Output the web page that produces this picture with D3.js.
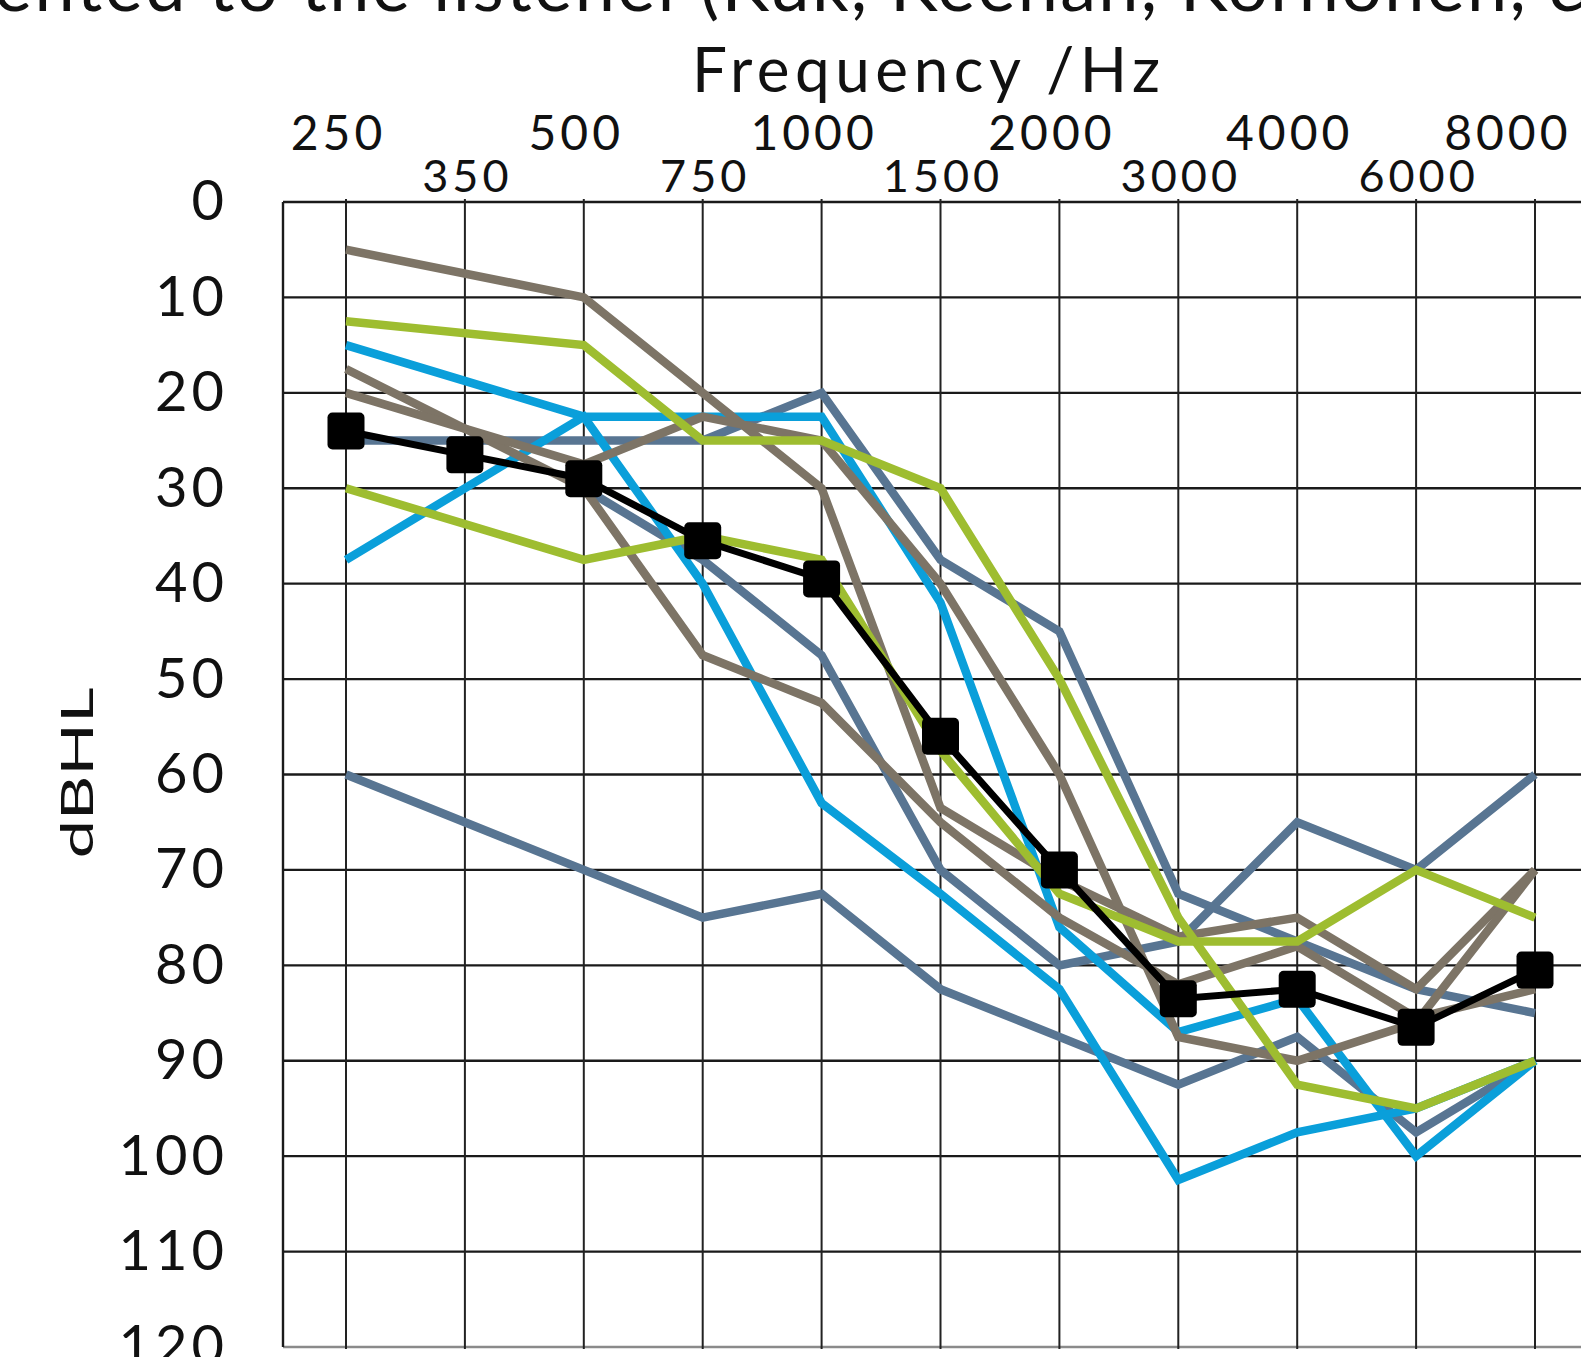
<!DOCTYPE html>
<html>
<head>
<meta charset="utf-8">
<script src="https://cdn.jsdelivr.net/npm/d3@7"></script>
<style>
  body { margin: 0; background: #fff; overflow: hidden; }
  text { font-family: Lato, "Open Sans", sans-serif; fill: #111; }
</style>
</head>
<body>
<svg id="draw"></svg>
<script>
// audiogram: frequency columns are evenly spaced, hearing level grows downwards

var freqs = [250, 350, 500, 750, 1000, 1500, 2000, 3000, 4000, 6000, 8000];
var upperFreqLabels = [250, 500, 1000, 2000, 4000, 8000];
var lowerFreqLabels = [350, 750, 1500, 3000, 6000];
var dbTicks = [0, 10, 20, 30, 40, 50, 60, 70, 80, 90, 100, 110, 120];

// individual listeners (dB HL), null = not measured
var brownA = [5, null, 10, null, 30, 63.5, 71, 77, 75, 82.5, 70];
var brownB = [17.5, null, 30, 47.5, 52.5, 65, 75, 82, 78, 85.5, 82.5];
var brownC = [20, null, 27.5, 22.5, 25, 40, 60, 87.5, 90, 86, 70];
var greenA = [12.5, null, 15, 25, 25, 30, 50, 75, 92.5, 95, 90];
var greenB = [30, null, 37.5, 35, 37.5, 57.5, 72.5, 77.5, 77.5, 70, 75];
var blueA = [15, null, 22.5, 22.5, 22.5, 42, 76, 87, 83.5, 100, 90];
var blueB = [37.5, null, 22.5, 40, 63, 72.5, 82.5, 102.5, 97.5, 95, 90];
var slateA = [25, null, 25, 25, 20, 37.5, 45, 72.5, 77.5, 82.5, 85];
var slateB = [null, null, 30, 37.5, 47.5, 70, 80, 77.5, 65, 70, 60];
var slateC = [60, null, 70, 75, 72.5, 82.5, 87.5, 92.5, 87.5, 97.5, 90];
// group mean
var meanHL = [24, 26.5, 29, 35.5, 39.5, 56, 70, 83.5, 82.5, 86.5, 80.5];

var colors = {
  slate: "#587592",
  blue: "#0a9fda",
  brown: "#7d7466",
  green: "#9ebd30"
};

// drawing order: slate at the back, mean on top
var listeners = [
  { values: slateA, color: colors.slate },
  { values: slateB, color: colors.slate },
  { values: slateC, color: colors.slate },
  { values: blueA, color: colors.blue },
  { values: blueB, color: colors.blue },
  { values: brownA, color: colors.brown },
  { values: brownB, color: colors.brown },
  { values: brownC, color: colors.brown },
  { values: greenA, color: colors.green },
  { values: greenB, color: colors.green }
];

var W = 1581, H = 1357;
var gridLeft = 283, gridRight = 1600;

var svg = d3.select("#draw")
  .attr("width", W)
  .attr("height", H);

var x = d3.scalePoint()
  .domain(freqs)
  .range([346, 1535]);

var y = d3.scaleLinear()
  .domain([0, 120])
  .range([202, 1347]);

// cut-off sentence from the page above the figure
var title = svg.append("text")
  .attr("y", 11)
  .attr("font-size", 72);
title.append("tspan")
  .attr("x", -6)
  .attr("textLength", 690)
  .attr("lengthAdjust", "spacing")
  .text("ented to the listener");
title.append("tspan")
  .attr("x", 700)
  .attr("textLength", 900)
  .attr("lengthAdjust", "spacing")
  .text("(Kuk, Keenan, Korhonen, &");

// grid
var grid = svg.append("g").attr("class", "grid");

grid.selectAll(".hline")
  .data(dbTicks)
  .enter().append("line")
  .attr("class", "hline")
  .attr("x1", gridLeft)
  .attr("x2", gridRight)
  .attr("y1", function(d) { return y(d); })
  .attr("y2", function(d) { return y(d); })
  .attr("stroke", function(d) { return d == 120 ? "#8a8a8a" : "#1a1a1a"; })
  .attr("stroke-width", 2.4);

grid.selectAll(".vline")
  .data(freqs)
  .enter().append("line")
  .attr("class", "vline")
  .attr("x1", function(d) { return x(d); })
  .attr("x2", function(d) { return x(d); })
  .attr("y1", y(0) - 3)
  .attr("y2", y(120) + 2)
  .attr("stroke", "#222")
  .attr("stroke-width", 2);

grid.append("line")
  .attr("x1", gridLeft)
  .attr("x2", gridLeft)
  .attr("y1", y(0))
  .attr("y2", y(120))
  .attr("stroke", "#1a1a1a")
  .attr("stroke-width", 2.4);

// axes: only the labels are kept
var yAxis = svg.append("g")
  .attr("transform", "translate(" + gridLeft + ",0)")
  .call(d3.axisLeft(y).tickValues(dbTicks).tickSize(0).tickPadding(55));

var upperAxis = svg.append("g")
  .attr("transform", "translate(-8," + y(0) + ")")
  .call(d3.axisTop(x).tickValues(upperFreqLabels).tickSize(0).tickPadding(52));

var lowerAxis = svg.append("g")
  .attr("transform", "translate(2," + y(0) + ")")
  .call(d3.axisTop(x).tickValues(lowerFreqLabels).tickSize(0).tickPadding(10));

[yAxis, upperAxis, lowerAxis].forEach(function(g) {
  g.select(".domain").remove();
  g.selectAll("text")
    .attr("fill", "#111")
    .style("font-family", "Lato, sans-serif");
});
yAxis.selectAll("text").attr("font-size", 56).attr("letter-spacing", 4);
upperAxis.selectAll("text").attr("font-size", 48).attr("letter-spacing", 4);
lowerAxis.selectAll("text").attr("font-size", 45).attr("letter-spacing", 4);

// keep the last frequency label inside the page
upperAxis.selectAll(".tick text").each(function(d) {
  var half = this.getComputedTextLength() / 2;
  var right = x(d) - 8 + half;
  if (right > W - 10) {
    d3.select(this).attr("x", W - 10 - right);
  }
});

// axis titles
svg.append("text")
  .attr("x", 692)
  .attr("y", 92)
  .attr("font-size", 62)
  .attr("textLength", 468)
  .attr("lengthAdjust", "spacing")
  .text("Frequency /Hz");

svg.append("text")
  .attr("transform", "translate(93,773) rotate(-90)")
  .attr("text-anchor", "middle")
  .attr("font-size", 44)
  .attr("textLength", 171)
  .attr("lengthAdjust", "spacingAndGlyphs")
  .text("dBHL");

// listener curves, skipping frequencies that were not measured
var line = d3.line()
  .x(function(d) { return x(d.f); })
  .y(function(d) { return y(d.v); });

function points(values) {
  return freqs.map(function(f, i) {
    return { f: f, v: values[i] };
  }).filter(function(d) { return d.v != null; });
}

svg.append("g").selectAll(".listener")
  .data(listeners)
  .enter().append("path")
  .attr("class", "listener")
  .attr("fill", "none")
  .attr("stroke", function(d) { return d.color; })
  .attr("stroke-width", 8.5)
  .attr("stroke-linejoin", "miter")
  .attr("d", function(d) { return line(points(d.values)); });

// mean curve with square markers
var meanPts = points(meanHL);

svg.append("path")
  .datum(meanPts)
  .attr("fill", "none")
  .attr("stroke", "#000")
  .attr("stroke-width", 7)
  .attr("d", line);

var sq = 37;
svg.selectAll(".marker")
  .data(meanPts)
  .enter().append("rect")
  .attr("class", "marker")
  .attr("x", function(d) { return x(d.f) - sq / 2; })
  .attr("y", function(d) { return y(d.v) - sq / 2; })
  .attr("width", sq)
  .attr("height", sq)
  .attr("rx", 5)
  .attr("fill", "#000");
</script>
</body>
</html>
